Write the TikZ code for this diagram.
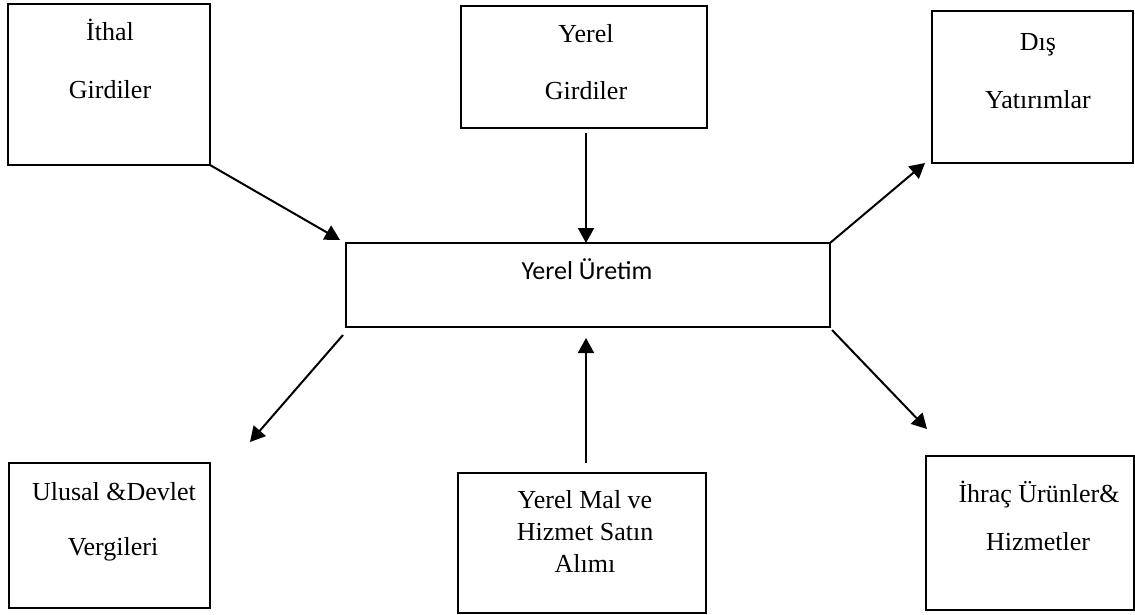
\documentclass[tikz,border=0pt]{standalone}
\usepackage{fontspec}
\setmainfont{Liberation Serif}
\newfontfamily\calibri{Carlito}
\usetikzlibrary{arrows.meta,fit}
\begin{document}
\begin{tikzpicture}[x=1pt,y=-1pt,
  box/.style={draw, line width=2pt, inner sep=0pt, outer sep=0pt},
  lbl/.style={anchor=base, inner sep=0pt, font=\fontsize{26}{30}\selectfont},
  ulbl/.style={anchor=base, inner sep=0pt, font=\calibri\fontsize{26}{30}\selectfont},
  flow/.style={line width=2pt, -{Triangle[length=15pt,width=16pt]}}]
\useasboundingbox (0,0) rectangle (1135,614);
% boxes
\node[box, fit={(8,4) (210,165)}] (b1) {};
\node[box, fit={(461,6) (707,128)}] (b2) {};
\node[box, fit={(932,11) (1133,163)}] (b3) {};
\node[box, fit={(346,243) (830,327)}] (bu) {};
\node[box, fit={(9,463) (210,608)}] (b4) {};
\node[box, fit={(458,473) (706,613)}] (b5) {};
\node[box, fit={(926,456) (1134,610)}] (b6) {};
% texts
\node[lbl] (t1a) at (110,40) {İthal};
\node[lbl] (t1b) at (110,98) {Girdiler};
\node[lbl] (t2a) at (586,42) {Yerel};
\node[lbl] (t2b) at (586,99) {Girdiler};
\node[lbl] (t3a) at (1038,50) {Dış};
\node[lbl] (t3b) at (1038,108) {Yatırımlar};
\node[ulbl] (tu) at (587,279) {Yerel Üretim};
\node[lbl] (t4a) at (114,500) {Ulusal \&Devlet};
\node[lbl] (t4b) at (113,555) {Vergileri};
\node[lbl] (t5a) at (585,508) {Yerel Mal ve};
\node[lbl] (t5b) at (585,540) {Hizmet Satın};
\node[lbl] (t5c) at (585,572) {Alımı};
\node[lbl] (t6a) at (1039,502) {İhraç Ürünler\&};
\node[lbl] (t6b) at (1038,550) {Hizmetler};
% free ends
\coordinate (e1) at (340,240);
\coordinate (e4) at (250,442);
% arrows
\draw[flow] (b1.south east) -- (e1);
\draw[flow] ([xshift=2pt,yshift=-5pt]b2.south) -- ([xshift=-2pt]bu.north);
\draw[flow] (bu.north east) -- ([xshift=-7pt]b3.south west);
\draw[flow] ([shift={(-3pt,-8pt)}]bu.south west) -- (e4);
\draw[flow] ([xshift=4pt,yshift=10pt]b5.north) -- ([xshift=-2pt,yshift=-11pt]bu.south);
\draw[flow] ([shift={(2pt,-3pt)}]bu.south east) -- ([shift={(1pt,27pt)}]b6.north west);
\end{tikzpicture}
\end{document}
